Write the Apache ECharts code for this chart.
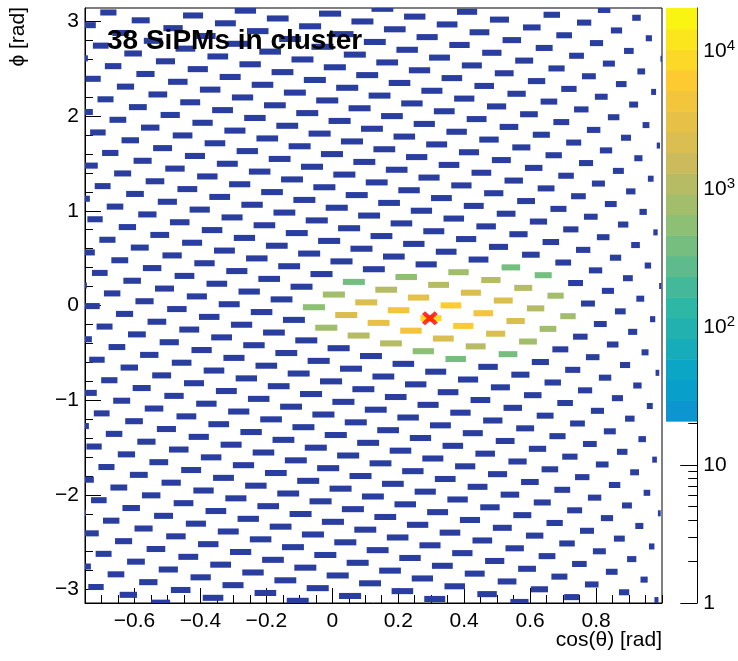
<!DOCTYPE html>
<html>
<head>
<meta charset="utf-8">
<script src="https://cdn.jsdelivr.net/npm/echarts@6/dist/echarts.min.js"></script>
<style>
html,body{margin:0;padding:0;background:#fff;}
#chart{width:738px;height:661px;}
</style>
</head>
<body>
<div id="chart"></div>
<script>
// ---------------- data ----------------
// SiPM layout: Fibonacci (golden-angle) lattice on the sphere
const SIPM_COUNT = 693;
const SIPM_COS_FIRST = -0.9995;
const SIPM_COS_STEP = 0.002886;
const SIPM_PHI_FIRST = 0.592;
const GOLDEN_ANGLE = Math.PI * (3 - Math.sqrt(5));

const clusterSipmIds = [327, 340, 348, 361, 369, 374, 382, 395, 403, 408, 416, 424, 429, 437, 442, 450, 458, 463, 471,
                        476, 479, 484, 492, 497, 505, 513, 518, 526, 531, 534, 539, 547, 552, 560, 568, 573, 581, 594];
const clusterCharges = [540, 760, 800, 2150, 400, 1080, 2250, 3050, 1120, 1050, 4300, 560, 4200, 3150, 580, 8600, 1100, 2100, 6000,
                        410, 820, 6200, 2200, 1150, 4400, 1100, 2300, 2150, 380, 400, 2250, 1080, 790, 1120, 390, 770, 760, 800];
const clusterCentroid = [0.296, -0.135];
const clusterLabel = '38 SiPMs in cluster';

const xTickValues = [-0.6, -0.4, -0.2, 0, 0.2, 0.4, 0.6, 0.8];
const yTickValues = [-3, -2, -1, 0, 1, 2, 3];
const zTickDecades = [0, 1, 2, 3, 4];          // log10 of 1, 10, 100, 1000, 10000
const zAxisMax = 20550;                         // top of colour scale
const zContourMin = 20.8;                       // lowest drawn contour

// ---------------- styling helpers ----------------
const FONT = '"Liberation Sans", Arial, Helvetica, sans-serif';
const X_MIN = -0.75, X_MAX = 1.0;
const SIPM_DTHETA = 0.067;   // rect width = sin(theta)*dtheta
const SIPM_DPHI = 0.064;
const SIPM_EMPTY_COLOR = '#2a3ea0';
const N_BANDS = 20;
const ZLOG_MAX = Math.log10(zAxisMax);
const ZLOG_MIN = Math.log10(zContourMin);
const BAND = (ZLOG_MAX - ZLOG_MIN) / N_BANDS;

const BIRD = {
  s: [0, .125, .25, .375, .5, .625, .75, .875, 1],
  r: [0.2082, 0.0592, 0.0780, 0.0232, 0.1802, 0.5301, 0.8186, 0.9956, 0.9764],
  g: [0.1664, 0.3599, 0.5041, 0.6419, 0.7178, 0.7492, 0.7328, 0.7862, 0.9832],
  b: [0.5293, 0.8684, 0.8385, 0.7914, 0.6425, 0.4662, 0.3499, 0.1968, 0.0539]
};
function bird(f) {
  f = Math.max(0, Math.min(1, f));
  let i = 0;
  while (i < BIRD.s.length - 2 && f > BIRD.s[i + 1]) i++;
  const t = (f - BIRD.s[i]) / (BIRD.s[i + 1] - BIRD.s[i]);
  const c = k => Math.round(255 * (BIRD[k][i] + t * (BIRD[k][i + 1] - BIRD[k][i])));
  return 'rgb(' + c('r') + ',' + c('g') + ',' + c('b') + ')';
}
function bandColor(k) {
  return bird((ZLOG_MIN + (k + 0.5) * BAND) / ZLOG_MAX);
}
function zColor(q) {
  let k = Math.floor((Math.log10(q) - ZLOG_MIN) / BAND);
  k = Math.max(0, Math.min(N_BANDS - 1, k));
  return bandColor(k);
}

// ---------------- build series data from the arrays ----------------
function sipmPosition(id) {
  const c = SIPM_COS_FIRST + id * SIPM_COS_STEP;
  let p = SIPM_PHI_FIRST + id * GOLDEN_ANGLE;
  p = p - 2 * Math.PI * Math.floor((p + Math.PI) / (2 * Math.PI));
  return [c, p];
}
const backgroundData = [];
for (let id = 0; id < SIPM_COUNT; id++) {
  if (clusterSipmIds.indexOf(id) >= 0) continue;
  backgroundData.push(sipmPosition(id).concat([0]));
}
const clusterData = clusterSipmIds.map((id, i) => sipmPosition(id).concat([clusterCharges[i]]));
const bandData = [];
for (let k = 0; k < N_BANDS; k++) bandData.push([k]);

function renderSipm(params, api) {
  const x = api.value(0), y = api.value(1), q = api.value(2);
  const w = SIPM_DTHETA * Math.sqrt(Math.max(0, 1 - x * x));
  const p0 = api.coord([x - w / 2, y + SIPM_DPHI / 2]);
  const p1 = api.coord([x + w / 2, y - SIPM_DPHI / 2]);
  const cs = params.coordSys;
  const shape = echarts.graphic.clipRectByRect(
    {x: p0[0], y: p0[1], width: p1[0] - p0[0], height: p1[1] - p0[1]},
    {x: cs.x, y: cs.y, width: cs.width, height: cs.height});
  if (!shape) return;
  return {type: 'rect', shape: shape, style: {fill: q > 0 ? zColor(q) : SIPM_EMPTY_COLOR}};
}
function renderBand(params, api) {
  const k = api.value(0);
  const lo = ZLOG_MIN + k * BAND, hi = lo + BAND;
  const p0 = api.coord([0, hi]);
  const p1 = api.coord([1, lo]);
  return {type: 'rect', shape: {x: p0[0], y: p0[1], width: p1[0] - p0[0], height: p1[1] - p0[1] + 0.5},
          style: {fill: bandColor(k)}};
}

// tick positions (axis decoration)
const xMinor = [];
for (let v = -15; v <= 20; v++) { if (v % 4 !== 0 || Math.abs(v) > 16) xMinor.push(v * 0.05); }
const yMinor = [];
for (let v = -15; v <= 15; v++) { if (v % 5 !== 0) yMinor.push(v * 0.2); }
const zMinor = [];
for (let d = 0; d <= 4; d++) for (let m = 2; m <= 9; m++) { const l = d + Math.log10(m); if (l <= ZLOG_MAX) zMinor.push(l); }

const minus = v => (v < 0 ? '\u2212' : '') + String(Math.abs(Math.round(v * 100) / 100));
const tickStyle = {color: '#000', width: 1};
const labelStyle = {color: '#000', fontSize: 21, fontFamily: FONT};
const hiddenLine = {show: false, onZero: false};

const chart = echarts.init(document.getElementById('chart'), null, {renderer: 'canvas'});
chart.setOption({
  animation: false,
  backgroundColor: '#fff',
  grid: [
    {left: 85, top: 8, width: 577, height: 595, show: true, borderColor: '#000', borderWidth: 1, backgroundColor: 'transparent'},
    {left: 666, top: 8, width: 34, height: 595, show: false}
  ],
  xAxis: [
    {gridIndex: 0, type: 'value', min: X_MIN, max: X_MAX, position: 'bottom',
     axisLine: {show: true, onZero: false, lineStyle: tickStyle}, splitLine: {show: false},
     axisTick: {show: true, inside: true, length: 15, customValues: xTickValues, lineStyle: tickStyle},
     axisLabel: {show: true, customValues: xTickValues, margin: 8, formatter: minus, ...labelStyle}},
    {gridIndex: 0, type: 'value', min: X_MIN, max: X_MAX, position: 'bottom',
     axisLine: hiddenLine, splitLine: {show: false},
     axisTick: {show: true, inside: true, length: 8, customValues: xMinor, lineStyle: tickStyle},
     axisLabel: {show: false}},
    {gridIndex: 1, type: 'value', min: 0, max: 1, show: false}
  ],
  yAxis: [
    {gridIndex: 0, type: 'value', min: -Math.PI, max: Math.PI, position: 'left',
     axisLine: {show: true, onZero: false, lineStyle: tickStyle}, splitLine: {show: false},
     axisTick: {show: true, inside: true, length: 16, customValues: yTickValues, lineStyle: tickStyle},
     axisLabel: {show: true, customValues: yTickValues, margin: 6, formatter: minus, ...labelStyle}},
    {gridIndex: 0, type: 'value', min: -Math.PI, max: Math.PI, position: 'left',
     axisLine: hiddenLine, splitLine: {show: false},
     axisTick: {show: true, inside: true, length: 8, customValues: yMinor, lineStyle: tickStyle},
     axisLabel: {show: false}},
    {gridIndex: 1, type: 'value', min: 0, max: ZLOG_MAX, position: 'right',
     axisLine: {show: true, onZero: false, lineStyle: tickStyle}, splitLine: {show: false},
     axisTick: {show: true, inside: true, length: 17, customValues: zTickDecades, lineStyle: tickStyle},
     axisLabel: {show: true, customValues: zTickDecades, margin: 6, ...labelStyle,
       formatter: v => { const d = Math.round(v); return d === 0 ? '1' : d === 1 ? '10' : '10{sup|' + d + '}'; },
       rich: {sup: {fontSize: 15, fontFamily: FONT, color: '#000', verticalAlign: 'top', padding: [0, 0, 10, 0]}}}},
    {gridIndex: 1, type: 'value', min: 0, max: ZLOG_MAX, position: 'right',
     axisLine: hiddenLine, splitLine: {show: false},
     axisTick: {show: true, inside: true, length: 9, customValues: zMinor, lineStyle: tickStyle},
     axisLabel: {show: false}}
  ],
  series: [
    {type: 'custom', name: 'SiPMs', xAxisIndex: 0, yAxisIndex: 0, renderItem: renderSipm, data: backgroundData, z: 2},
    {type: 'custom', name: 'cluster', xAxisIndex: 0, yAxisIndex: 0, renderItem: renderSipm, data: clusterData, z: 3},
    {type: 'scatter', name: 'centroid', xAxisIndex: 0, yAxisIndex: 0, data: [clusterCentroid], z: 4,
     symbol: 'path://M0,2 L2,0 L5,3 L8,0 L10,2 L7,5 L10,8 L8,10 L5,7 L2,10 L0,8 L3,5 Z',
     symbolSize: [16, 14], itemStyle: {color: '#ff0000'}},
    {type: 'custom', name: 'palette', xAxisIndex: 2, yAxisIndex: 2, renderItem: renderBand, data: bandData, z: 1}
  ],
  graphic: [
    {type: 'text', left: 107, top: 27, z: 10,
     style: {text: clusterLabel, font: 'bold 28px ' + FONT, fill: '#000'}},
    {type: 'text', right: 76, top: 630, z: 10,
     style: {text: 'cos(\u03b8) [rad]', font: '21px ' + FONT, fill: '#000'}},
    {type: 'text', x: 18, y: 7, rotation: Math.PI / 2, z: 10,
     style: {text: '\u03d5 [rad]', font: '21px ' + FONT, fill: '#000', textAlign: 'right', textVerticalAlign: 'middle'}}
  ]
});
</script>
</body>
</html>
